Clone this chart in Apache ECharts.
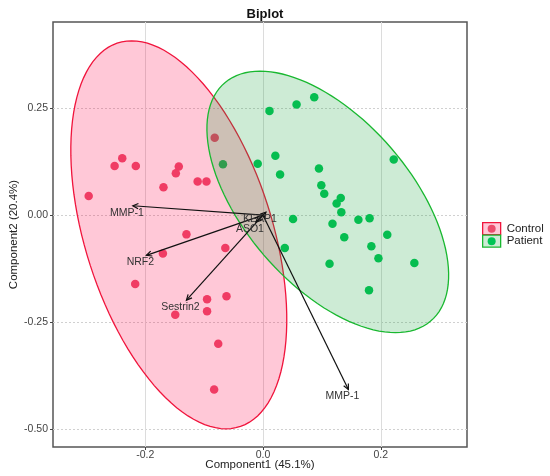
<!DOCTYPE html>
<html>
<head>
<meta charset="utf-8">
<script src="https://cdn.jsdelivr.net/npm/echarts@6/dist/echarts.min.js"></script>
<style>
  html, body { margin: 0; padding: 0; background: #fff; }
  #chart { width: 550px; height: 476px; }
</style>
</head>
<body>
<div id="chart"></div>
<script>
// scores
const controlX = [-0.082, -0.239, -0.252, -0.216, -0.143, -0.148, -0.169, -0.111, -0.096, -0.296,
                  -0.130, -0.170, -0.064, -0.217, -0.095, -0.062, -0.095, -0.149, -0.076, -0.083];
const controlY = [0.181, 0.133, 0.115, 0.115, 0.114, 0.098, 0.065, 0.079, 0.079, 0.045,
                  -0.045, -0.090, -0.077, -0.161, -0.197, -0.190, -0.225, -0.233, -0.301, -0.408];
const patientX = [0.011, 0.057, 0.087, 0.021, -0.009, 0.029, 0.095, 0.222, 0.099, 0.104, 0.132, 0.125, 0.133,
                  0.051, 0.118, 0.162, 0.181, 0.138, 0.211, 0.184, 0.037, 0.196, 0.257, 0.113, 0.180, -0.068];
const patientY = [0.244, 0.259, 0.276, 0.139, 0.120, 0.095, 0.109, 0.130, 0.070, 0.050, 0.040, 0.027, 0.007,
                  -0.009, -0.020, -0.011, -0.007, -0.052, -0.046, -0.073, -0.077, -0.101, -0.112, -0.114, -0.176, 0.119];

// variable loadings (arrows from the origin)
const loadingNames = ['MMP-1', 'NRF2', 'Sestrin2', 'MMP-1', 'KEAP1', 'ASO1'];
const loadingX = [-0.221, -0.198, -0.130, 0.145, 0.005, -0.012];
const loadingY = [0.022, -0.094, -0.199, -0.408, 0.007, -0.016];

// concentration ellipses: centre, horizontal half-vector, top half-vector
const groups = ['Control', 'Patient'];
const ellipseCenter = [[-0.143, -0.046], [0.110, 0.031]];
const ellipseU = [[0.165, 0], [0.170, 0]];
const ellipseV = [[-0.080, 0.454], [-0.115, 0.306]];

const xTicks = [-0.2, 0, 0.2];
const yTicks = [-0.5, -0.25, 0, 0.25];

const FONT = 'Liberation Sans, Arial, sans-serif';
const dotColor = ['#EC4C6C', '#00C555'];
const fillColor = ['rgba(255,5,73,0.22)', 'rgba(27,164,64,0.22)'];
const edgeColor = ['#F0143C', '#19B830'];

const chart = echarts.init(document.getElementById('chart'), null, { renderer: 'canvas' });

function zip(xs, ys) { return xs.map((x, i) => [x, ys[i]]); }

function renderEllipse(params, api) {
  const g = api.value(0);
  const c = ellipseCenter[g], u = ellipseU[g], v = ellipseV[g];
  const pts = [];
  for (let i = 0; i < 120; i++) {
    const t = i / 120 * Math.PI * 2;
    pts.push(api.coord([c[0] + u[0] * Math.cos(t) + v[0] * Math.sin(t),
                        c[1] + u[1] * Math.cos(t) + v[1] * Math.sin(t)]));
  }
  return {
    type: 'polygon',
    shape: { points: pts },
    style: { fill: fillColor[g], stroke: edgeColor[g], lineWidth: 1.3 }
  };
}

function renderArrow(params, api) {
  const o = api.coord([0, 0]);
  const p = api.coord([api.value(0), api.value(1)]);
  const a = Math.atan2(p[1] - o[1], p[0] - o[0]);
  const L = 6, w = 0.45;
  const h1 = [p[0] - L * Math.cos(a - w), p[1] - L * Math.sin(a - w)];
  const h2 = [p[0] - L * Math.cos(a + w), p[1] - L * Math.sin(a + w)];
  const st = { stroke: '#111', lineWidth: 1.2, fill: null };
  return {
    type: 'group',
    children: [
      { type: 'line', shape: { x1: o[0], y1: o[1], x2: p[0], y2: p[1] }, style: st },
      { type: 'polyline', shape: { points: [h1, p, h2] }, style: st },
      { type: 'text', x: p[0] - 6, y: p[1] + 7,
        style: { text: loadingNames[params.dataIndex], fill: '#333', font: '10.5px ' + FONT,
                 align: 'center', verticalAlign: 'middle' } }
    ]
  };
}

chart.setOption({
  animation: false,
  title: {
    text: 'Biplot', left: 260, top: 3, textAlign: 'center',
    textStyle: { fontFamily: FONT, fontSize: 13, fontWeight: 'bold', color: '#111' }
  },
  grid: {
    left: 53, top: 22, right: 83, bottom: 29, containLabel: false, outerBoundsMode: 'none',
    show: true, borderColor: '#555', borderWidth: 1.5, backgroundColor: '#fff'
  },
  xAxis: {
    type: 'value', min: -0.3566, max: 0.3464,
    name: 'Component1 (45.1%)', nameLocation: 'middle', nameGap: 12, nameMoveOverlap: false,
    nameTextStyle: { fontFamily: FONT, fontSize: 11.5, color: '#222' },
    axisLine: { show: false, onZero: false },
    axisTick: { show: true, length: 3, customValues: xTicks, lineStyle: { color: '#444' } },
    axisLabel: { customValues: xTicks, margin: 3, fontFamily: FONT, fontSize: 10.5, color: '#444',
                 formatter: v => v.toFixed(1) },
    splitLine: { show: true, lineStyle: { color: '#dcdcdc', width: 1 } }
  },
  yAxis: {
    type: 'value', min: -0.5426, max: 0.452,
    name: 'Component2 (20.4%)', nameLocation: 'middle', nameGap: 33, nameRotate: 90, nameMoveOverlap: false,
    nameTextStyle: { fontFamily: FONT, fontSize: 11.5, color: '#222' },
    axisLine: { show: false, onZero: false },
    axisTick: { show: true, length: 3, customValues: yTicks, lineStyle: { color: '#444' } },
    axisLabel: { customValues: yTicks, margin: 5, fontFamily: FONT, fontSize: 10.5, color: '#444',
                 formatter: v => v.toFixed(2) },
    splitLine: { show: true, lineStyle: { color: '#d0d0d0', width: 1, type: [2, 2] } }
  },
  series: [
    { name: 'Control', type: 'scatter', z: 2, symbolSize: 8.5, data: zip(controlX, controlY),
      itemStyle: { color: dotColor[0], opacity: 1 } },
    { name: 'Patient', type: 'scatter', z: 2, symbolSize: 8.5, data: zip(patientX, patientY),
      itemStyle: { color: dotColor[1], opacity: 1 } },
    { type: 'custom', z: 3, renderItem: renderEllipse, data: [[0], [1]], encode: { x: -1, y: -1 },
      clip: true, silent: true },
    { type: 'custom', z: 4, renderItem: renderArrow, data: zip(loadingX, loadingY),
      encode: { x: 0, y: 1 }, clip: false, silent: true }
  ],
  graphic: groups.map((name, i) => ({
    type: 'group', left: 482, top: 222 + i * 12.5,
    children: [
      { type: 'rect', shape: { x: 0, y: 0, width: 18, height: 12 },
        style: { fill: i === 0 ? '#FFC8D8' : '#CDEBD5', stroke: edgeColor[i], lineWidth: 1.3 } },
      { type: 'circle', shape: { cx: 9, cy: 6, r: 4 }, style: { fill: dotColor[i] } },
      { type: 'text', x: 24, y: 6,
        style: { text: name, fill: '#222', font: '11.5px ' + FONT, verticalAlign: 'middle' } }
    ]
  }))
});
</script>
</body>
</html>
